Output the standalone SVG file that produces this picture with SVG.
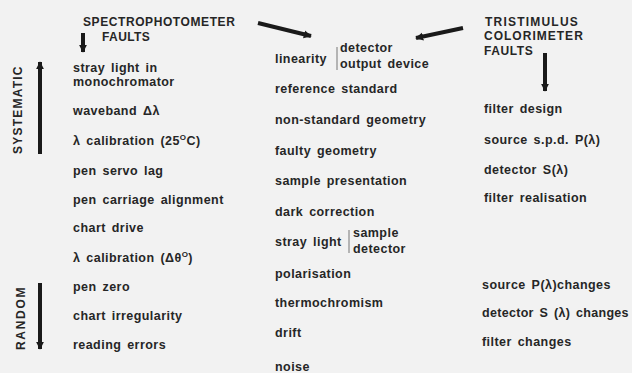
<svg xmlns="http://www.w3.org/2000/svg" width="632" height="373" viewBox="0 0 632 373">
<style>
text{font-family:"Liberation Sans",Arial,sans-serif;fill:#262626}
.h{font-size:12px;font-weight:bold;letter-spacing:0.2px}
.t{font-size:12.5px;font-weight:bold;letter-spacing:0.45px;word-spacing:2px}
.s{font-size:8px}
.v{font-size:12px;font-weight:bold;letter-spacing:0.5px}
.ar{stroke:#1a1a1a;stroke-width:4;fill:none}
.bar{stroke:#777;stroke-width:1}
</style>
<defs>
<marker id="ah" viewBox="0 0 10 10" refX="9" refY="5" markerUnits="userSpaceOnUse" markerWidth="8" markerHeight="9" orient="auto">
<path d="M0,0 L10,5 L0,10 z" fill="#1a1a1a"/>
</marker>
</defs>
<rect width="632" height="373" fill="#f2f2f2"/>
<g id="connectors">
<line class="ar" x1="83" y1="33" x2="83" y2="52" marker-end="url(#ah)"/>
<line class="ar" x1="258" y1="23" x2="311" y2="36" marker-end="url(#ah)"/>
<line class="ar" x1="463" y1="28" x2="416" y2="38" marker-end="url(#ah)"/>
<line class="ar" x1="545" y1="53" x2="545" y2="91" marker-end="url(#ah)"/>
<line class="ar" x1="40" y1="154" x2="40" y2="62" marker-end="url(#ah)"/>
<line class="ar" x1="40" y1="283" x2="40" y2="349" marker-end="url(#ah)"/>
</g>
<g id="spectrophotometer-header">
<text class="h" x="83" y="26" textLength="152" lengthAdjust="spacing">SPECTROPHOTOMETER</text>
<text class="h" x="102" y="41" textLength="48" lengthAdjust="spacing">FAULTS</text>
</g>
<g id="colorimeter-header">
<text class="h" x="485" y="26" textLength="93" lengthAdjust="spacing">TRISTIMULUS</text>
<text class="h" x="484" y="40" textLength="99" lengthAdjust="spacing">COLORIMETER</text>
<text class="h" x="484" y="55" textLength="49" lengthAdjust="spacing">FAULTS</text>
</g>
<g id="systematic">
<text class="v" transform="translate(22,154) rotate(-90)" textLength="88" lengthAdjust="spacing">SYSTEMATIC</text>
</g>
<g id="random">
<text class="v" transform="translate(25,350) rotate(-90)" textLength="63" lengthAdjust="spacing">RANDOM</text>
</g>
<g id="spectro-list">
<text class="t" x="73" y="72">stray light in</text>
<text class="t" x="73" y="86">monochromator</text>
<text class="t" x="73" y="115">waveband Δλ</text>
<text class="t" x="73" y="145">λ  calibration (25<tspan class="s" dy="-5">O</tspan><tspan dy="5">C)</tspan></text>
<text class="t" x="73" y="175">pen servo lag</text>
<text class="t" x="73" y="204">pen carriage alignment</text>
<text class="t" x="73" y="232">chart drive</text>
<text class="t" x="73" y="262">λ calibration (Δθ<tspan class="s" dy="-5">O</tspan><tspan dy="5">)</tspan></text>
<text class="t" x="73" y="291">pen zero</text>
<text class="t" x="73" y="320">chart irregularity</text>
<text class="t" x="73" y="349">reading errors</text>
</g>
<g id="common-list">
<text class="t" x="275" y="63">linearity</text>
<line class="bar" x1="337" y1="47" x2="337" y2="70"/>
<text class="t" x="340" y="52">detector</text>
<text class="t" x="340" y="68">output device</text>
<text class="t" x="275" y="93">reference standard</text>
<text class="t" x="275" y="124">non-standard geometry</text>
<text class="t" x="275" y="155">faulty geometry</text>
<text class="t" x="275" y="185">sample presentation</text>
<text class="t" x="275" y="216">dark correction</text>
<text class="t" x="275" y="246">stray light</text>
<line class="bar" x1="349" y1="230" x2="349" y2="253"/>
<text class="t" x="353" y="237">sample</text>
<text class="t" x="353" y="253">detector</text>
<text class="t" x="275" y="278">polarisation</text>
<text class="t" x="275" y="307">thermochromism</text>
<text class="t" x="275" y="337">drift</text>
<text class="t" x="275" y="371">noise</text>
</g>
<g id="colorimeter-list">
<text class="t" x="484" y="113">filter design</text>
<text class="t" x="484" y="144">source s.p.d. P(λ)</text>
<text class="t" x="484" y="174">detector S(λ)</text>
<text class="t" x="484" y="202">filter realisation</text>
<text class="t" x="482" y="289">source P(λ)changes</text>
<text class="t" x="482" y="317" textLength="147" lengthAdjust="spacing">detector S (λ) changes</text>
<text class="t" x="482" y="346">filter changes</text>
</g>
</svg>
